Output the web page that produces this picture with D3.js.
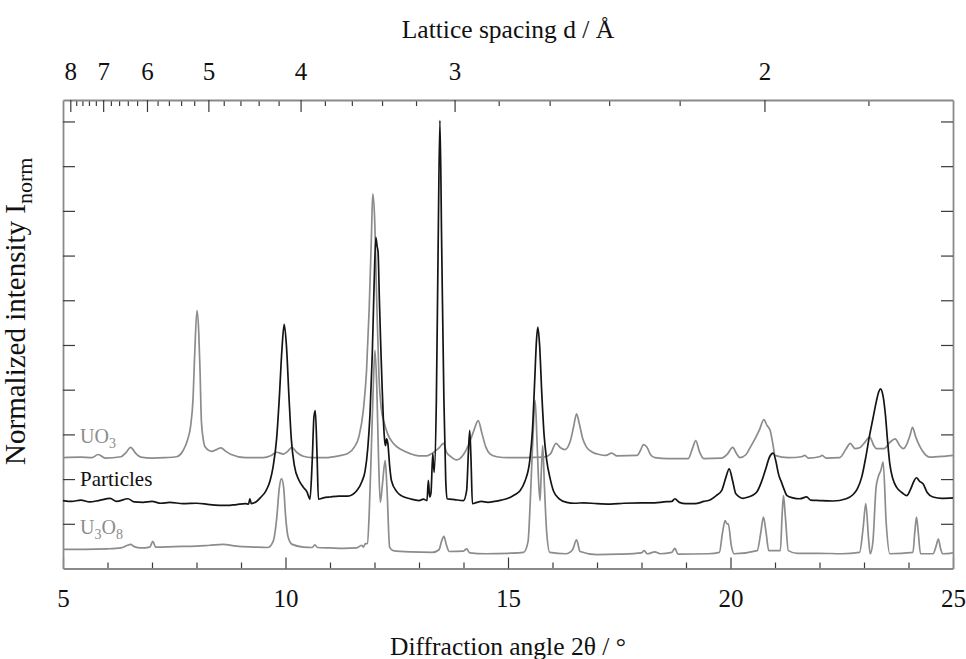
<!DOCTYPE html>
<html>
<head>
<meta charset="utf-8">
<script src="https://cdn.jsdelivr.net/npm/d3@7"></script>
<style>
  body { margin: 0; background: #fff; }
  text { font-family: "Liberation Serif", "Times New Roman", serif; }
</style>
</head>
<body>
<div class="chart"></div>
<script>
// [2theta, normalized intensity]
const uo3 = [
  [5.0,2.48],[5.4,2.49],[5.65,2.48],[5.79,2.55],[5.95,2.47],[6.3,2.50],[6.42,2.6],[6.52,2.71],[6.63,2.58],[6.75,2.49],
  [7.0,2.47],[7.3,2.48],[7.55,2.50],[7.7,2.64],[7.8,2.88],[7.87,3.2],[7.92,3.76],[7.96,4.8],[8.01,5.77],[8.05,5.3],
  [8.08,4.4],[8.11,3.3],[8.15,2.9],[8.2,2.71],[8.34,2.62],[8.45,2.66],[8.55,2.70],[8.66,2.62],[8.78,2.55],[9.1,2.48],
  [9.5,2.48],[9.68,2.53],[9.8,2.60],[9.95,2.56],[10.05,2.62],[10.14,2.71],[10.25,2.6],[10.4,2.51],[10.6,2.48],[10.9,2.48],
  [11.2,2.52],[11.4,2.57],[11.55,2.72],[11.65,2.95],[11.75,3.55],[11.82,4.4],[11.88,5.8],[11.93,7.4],[11.96,8.38],[12.0,7.9],
  [12.05,6.0],[12.1,4.3],[12.15,3.6],[12.22,3.25],[12.3,3.0],[12.42,2.8],[12.6,2.66],[12.8,2.57],[13.0,2.52],[13.17,2.52],
  [13.3,2.58],[13.45,2.7],[13.55,2.80],[13.62,2.6],[13.72,2.5],[13.85,2.43],[14.0,2.55],[14.12,2.78],[14.22,3.05],[14.33,3.31],
  [14.42,3.0],[14.5,2.72],[14.6,2.56],[14.75,2.50],[15.0,2.48],[15.4,2.48],[15.8,2.49],[15.95,2.56],[16.08,2.80],[16.18,2.70],
  [16.28,2.66],[16.4,2.85],[16.48,3.2],[16.54,3.46],[16.6,3.25],[16.68,2.9],[16.76,2.72],[16.9,2.6],[17.05,2.55],[17.2,2.53],
  [17.33,2.58],[17.45,2.52],[17.9,2.53],[17.98,2.65],[18.04,2.77],[18.12,2.72],[18.2,2.55],[18.3,2.48],[18.6,2.46],[19.05,2.46],
  [19.15,2.7],[19.22,2.86],[19.3,2.62],[19.4,2.46],[19.8,2.47],[19.93,2.56],[20.05,2.71],[20.13,2.58],[20.21,2.48],[20.35,2.55],
  [20.45,2.72],[20.55,2.9],[20.65,3.1],[20.75,3.33],[20.82,3.2],[20.89,3.09],[20.95,2.8],[21.0,2.53],[21.3,2.48],[21.6,2.5],
  [21.67,2.53],[21.75,2.47],[22.0,2.5],[22.06,2.53],[22.15,2.47],[22.45,2.48],[22.6,2.68],[22.69,2.80],[22.8,2.68],[22.9,2.7],
  [23.0,2.8],[23.13,2.94],[23.22,2.75],[23.28,2.68],[23.45,2.68],[23.58,2.82],[23.7,2.90],[23.8,2.75],[23.88,2.68],[23.97,2.8],
  [24.04,3.0],[24.09,3.16],[24.16,2.95],[24.26,2.72],[24.35,2.58],[24.48,2.49],[24.8,2.51],[25.0,2.53]
];

const particles = [
  [5.0,1.52],[5.2,1.5],[5.4,1.53],[5.6,1.49],[5.8,1.52],[6.06,1.57],[6.2,1.5],[6.46,1.56],[6.6,1.49],[6.8,1.48],
  [7.0,1.50],[7.2,1.46],[7.4,1.48],[7.7,1.45],[8.0,1.46],[8.3,1.43],[8.68,1.41],[8.9,1.43],[9.1,1.45],[9.17,1.44],
  [9.2,1.56],[9.23,1.45],[9.35,1.5],[9.45,1.6],[9.55,1.72],[9.65,1.95],[9.72,2.27],[9.8,2.9],[9.86,3.8],[9.92,4.9],
  [9.97,5.46],[10.02,5.0],[10.08,3.8],[10.13,2.9],[10.2,2.3],[10.3,1.98],[10.4,1.82],[10.48,1.72],[10.55,1.55],[10.6,2.4],
  [10.64,3.4],[10.67,3.53],[10.71,2.5],[10.74,1.55],[10.85,1.58],[11.0,1.6],[11.2,1.62],[11.4,1.62],[11.6,1.74],[11.72,1.95],
  [11.79,2.19],[11.85,2.7],[11.9,3.47],[11.95,4.8],[11.99,6.3],[12.03,7.41],[12.06,7.2],[12.08,7.08],[12.11,6.0],[12.14,5.0],
  [12.17,4.1],[12.2,3.31],[12.23,2.85],[12.25,2.75],[12.27,2.9],[12.3,2.8],[12.34,2.3],[12.38,1.97],[12.5,1.72],[12.6,1.63],
  [12.8,1.56],[13.0,1.52],[13.1,1.55],[13.18,1.52],[13.21,1.97],[13.24,1.6],[13.27,1.7],[13.31,2.57],[13.34,2.15],[13.39,3.76],
  [13.43,7.2],[13.47,10.02],[13.51,7.2],[13.56,3.76],[13.6,2.0],[13.63,1.56],[13.8,1.54],[14.0,1.52],[14.07,1.74],[14.11,2.6],
  [14.14,3.09],[14.17,2.4],[14.2,1.45],[14.3,1.48],[14.4,1.5],[14.55,1.48],[14.7,1.5],[14.85,1.53],[15.0,1.57],[15.15,1.65],
  [15.27,1.74],[15.38,1.95],[15.49,2.42],[15.55,3.1],[15.6,4.2],[15.64,5.1],[15.67,5.4],[15.71,5.0],[15.76,3.9],[15.81,3.0],
  [15.87,2.42],[15.95,2.0],[16.02,1.74],[16.15,1.56],[16.32,1.48],[16.5,1.46],[16.7,1.47],[17.0,1.45],[17.3,1.44],[17.6,1.46],
  [18.0,1.47],[18.3,1.47],[18.5,1.49],[18.68,1.50],[18.75,1.56],[18.85,1.48],[19.0,1.45],[19.2,1.45],[19.4,1.5],[19.55,1.54],
  [19.68,1.63],[19.8,1.74],[19.9,2.05],[19.97,2.23],[20.05,1.95],[20.12,1.67],[20.28,1.57],[20.4,1.6],[20.5,1.64],[20.59,1.71],
  [20.7,1.95],[20.78,2.19],[20.88,2.5],[20.96,2.58],[21.02,2.4],[21.07,2.15],[21.1,2.04],[21.13,1.97],[21.2,1.78],[21.27,1.63],
  [21.4,1.58],[21.56,1.56],[21.71,1.6],[21.8,1.53],[22.0,1.52],[22.3,1.51],[22.6,1.56],[22.75,1.65],[22.85,1.78],[22.95,2.05],
  [23.04,2.49],[23.12,2.95],[23.2,3.35],[23.28,3.75],[23.33,3.95],[23.37,4.02],[23.42,3.9],[23.48,3.45],[23.53,2.85],[23.58,2.34],
  [23.65,2.0],[23.73,1.82],[23.85,1.7],[23.96,1.63],[24.05,1.78],[24.12,1.95],[24.18,2.03],[24.25,1.95],[24.33,1.89],[24.42,1.7],
  [24.55,1.60],[24.75,1.57],[25.0,1.58]
];

const u3o8 = [
  [5.0,0.43],[5.5,0.43],[6.0,0.44],[6.3,0.46],[6.45,0.52],[6.52,0.54],[6.6,0.49],[6.75,0.46],[6.95,0.48],[7.02,0.61],
  [7.08,0.48],[7.5,0.49],[8.0,0.5],[8.3,0.52],[8.6,0.54],[8.9,0.5],[9.3,0.48],[9.6,0.47],[9.72,0.6],[9.8,1.1],
  [9.86,1.8],[9.91,2.01],[9.96,1.8],[10.0,1.2],[10.06,0.7],[10.15,0.54],[10.4,0.48],[10.6,0.47],[10.66,0.53],[10.72,0.47],
  [11.0,0.46],[11.3,0.45],[11.6,0.46],[11.71,0.52],[11.75,0.48],[11.79,0.55],[11.84,0.56],[11.88,1.2],[11.93,2.71],[11.97,4.0],
  [12.01,4.88],[12.05,4.1],[12.09,2.5],[12.13,1.48],[12.18,1.9],[12.24,2.42],[12.28,1.8],[12.34,0.48],[12.42,0.40],[12.8,0.37],
  [13.3,0.36],[13.45,0.42],[13.51,0.62],[13.56,0.72],[13.61,0.55],[13.68,0.38],[14.0,0.39],[14.07,0.44],[14.14,0.35],[14.5,0.33],
  [15.0,0.34],[15.35,0.36],[15.45,0.6],[15.5,1.5],[15.55,2.7],[15.61,3.76],[15.65,2.9],[15.69,1.9],[15.72,1.52],[15.75,2.2],
  [15.78,2.75],[15.82,1.8],[15.87,0.8],[15.94,0.36],[16.3,0.33],[16.45,0.42],[16.54,0.64],[16.62,0.38],[17.0,0.31],[17.5,0.32],
  [18.0,0.35],[18.06,0.40],[18.13,0.33],[18.3,0.37],[18.42,0.33],[18.68,0.36],[18.75,0.45],[18.82,0.32],[19.5,0.33],[19.75,0.36],
  [19.82,0.8],[19.88,1.07],[19.92,1.0],[19.95,1.0],[20.02,0.5],[20.08,0.33],[20.6,0.40],[20.68,0.8],[20.74,1.15],[20.8,0.8],
  [20.86,0.40],[21.12,0.40],[21.16,1.2],[21.19,1.63],[21.23,1.2],[21.3,0.40],[21.5,0.34],[22.0,0.34],[22.5,0.33],[22.9,0.36],
  [22.98,0.9],[23.04,1.45],[23.1,0.7],[23.14,0.33],[23.2,0.6],[23.27,1.8],[23.32,2.05],[23.38,2.2],[23.43,2.38],[23.5,1.0],
  [23.58,0.33],[24.1,0.36],[24.14,0.8],[24.18,1.15],[24.22,0.8],[24.27,0.33],[24.55,0.33],[24.62,0.5],[24.67,0.66],[24.72,0.45],
  [24.77,0.33],[25.0,0.35]
];

const xTicks = [5, 10, 15, 20, 25];
const yTicks = [1, 2, 3, 4, 5, 6, 7, 8, 9, 10];
const dLabels = [8, 7, 6, 5, 4, 3, 2];
const dMinor = d3.range(80, 17, -2).map(v => v / 10); // 8.0 ... 1.8 every 0.2
const wavelength = 0.7208; // Å

const margin = { top: 100, right: 13, bottom: 90.5, left: 63 };
const width = 966 - margin.left - margin.right;
const height = 659 - margin.top - margin.bottom;

const svg = d3.select('.chart')
  .append('svg')
  .attr('width', 966)
  .attr('height', 659)
  .append('g')
  .attr('transform', `translate(${margin.left}, ${margin.top})`);

const xScale = d3.scaleLinear().domain([5, 25]).range([0, width]);
const yScale = d3.scaleLinear().domain([0, 10.48]).range([height, 0]);

// d-spacing -> 2theta (deg)
const dToTheta = d => 2 * Math.asin(wavelength / (2 * d)) * 180 / Math.PI;

const tickColor = '#3a3a3a';
const frameColor = '#8a8a8a';

// bottom axis, ticks pointing up
const xMinor = d3.range(6, 25).filter(v => v % 5 !== 0);
svg.append('g')
  .attr('transform', `translate(0, ${height})`)
  .call(d3.axisBottom(xScale).tickValues(xMinor).tickSize(-6).tickFormat(''))
  .call(g => g.select('.domain').remove());
svg.append('g')
  .attr('class', 'xaxis')
  .attr('transform', `translate(0, ${height})`)
  .call(d3.axisBottom(xScale).tickValues(xTicks).tickSize(-11).tickPadding(21).tickSizeOuter(0));

// top axis: lattice spacing
svg.append('g')
  .call(d3.axisTop(xScale).tickValues(dMinor.filter(d => !dLabels.includes(d)).map(dToTheta))
    .tickSize(-6).tickFormat(''))
  .call(g => g.select('.domain').remove());
svg.append('g')
  .attr('class', 'taxis')
  .call(d3.axisTop(xScale).tickValues(dLabels.map(dToTheta)).tickSize(-12).tickPadding(20)
    .tickSizeOuter(0).tickFormat((t, i) => dLabels[i]));

// left / right axes, no labels
svg.append('g')
  .call(d3.axisLeft(yScale).tickValues(yTicks).tickSize(-12).tickFormat('').tickSizeOuter(0));
svg.append('g')
  .attr('transform', `translate(${width}, 0)`)
  .call(d3.axisRight(yScale).tickValues(yTicks).tickSize(-12).tickFormat('').tickSizeOuter(0));

svg.selectAll('.tick line').attr('stroke', tickColor).attr('stroke-width', 1.2);
svg.selectAll('.domain').attr('stroke', frameColor).attr('stroke-width', 1.8);
svg.selectAll('.xaxis text, .taxis text')
  .attr('font-family', '"Liberation Serif", serif')
  .attr('font-size', 25)
  .attr('fill', '#111');

const line = d3.line()
  .x(d => xScale(d[0]))
  .y(d => yScale(d[1]))
  .curve(d3.curveMonotoneX);

const series = [
  { name: 'UO3', data: uo3, color: '#8c8c8c' },
  { name: 'U3O8', data: u3o8, color: '#8c8c8c' },
  { name: 'Particles', data: particles, color: '#141414' },
];

svg.selectAll('path.trace')
  .data(series)
  .enter()
  .append('path')
  .attr('class', 'trace')
  .attr('d', s => line(s.data))
  .attr('fill', 'none')
  .attr('stroke', s => s.color)
  .attr('stroke-width', 1.7)
  .attr('stroke-linejoin', 'round');

// curve labels
function label(parts, yVal, color, size) {
  const t = svg.append('text')
    .attr('x', 17)
    .attr('y', yScale(yVal))
    .attr('font-size', size)
    .attr('fill', color);
  parts.forEach(p => {
    t.append('tspan')
      .attr('font-size', p.sub ? size * 0.7 : size)
      .attr('dy', p.sub ? 5 : (p.after ? -5 : 0))
      .text(p.t);
  });
}
label([{ t: 'UO' }, { t: '3', sub: true }], 2.8, '#8c8c8c', 20);
label([{ t: 'Particles' }], 1.85, '#111', 21);
label([{ t: 'U' }, { t: '3', sub: true }, { t: 'O', after: true }, { t: '8', sub: true }], 0.78, '#8c8c8c', 20);

// axis titles
svg.append('text')
  .attr('x', width / 2)
  .attr('y', -62)
  .attr('text-anchor', 'middle')
  .attr('font-size', 25.5)
  .attr('fill', '#111')
  .text('Lattice spacing d / Å');

svg.append('text')
  .attr('x', width / 2)
  .attr('y', height + 86)
  .attr('text-anchor', 'middle')
  .attr('font-size', 25.5)
  .attr('fill', '#111')
  .text('Diffraction angle 2θ / °');

const yt = svg.append('text')
  .attr('transform', `translate(${-38}, ${height / 2 - 23}) rotate(-90)`)
  .attr('text-anchor', 'middle')
  .attr('font-size', 29)
  .attr('fill', '#111');
yt.append('tspan').text('Normalized intensity I');
yt.append('tspan').attr('font-size', 22).attr('dy', 7).text('norm');
</script>
</body>
</html>
